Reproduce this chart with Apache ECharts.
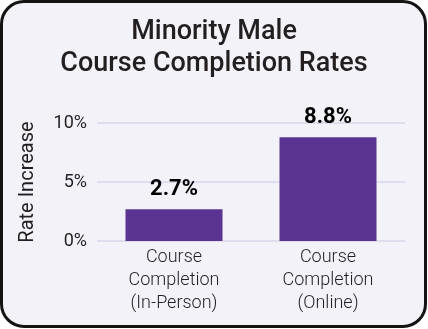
<!DOCTYPE html>
<html><head><meta charset="utf-8">
<script src="https://cdn.jsdelivr.net/npm/echarts@6/dist/echarts.min.js"></script>
<style>
html,body{margin:0;padding:0;background:#fff;}
#box{position:absolute;left:0;top:0;width:427px;height:328px;box-sizing:border-box;border:3px solid #141414;border-radius:24px;background:#f3f2f9;overflow:hidden;}
#chart{position:absolute;left:-3px;top:-3px;width:428px;height:329px;}
</style></head>
<body><div id="box"><div id="chart"></div></div>
<script>
const titleLines = ['Minority Male', 'Course Completion Rates'];
const categories = ['Course\nCompletion\n(In-Person)', 'Course\nCompletion\n(Online)'];
const values = [2.7, 8.8];
const yTicks = [0, 5, 10];
const yName = 'Rate Increase';

const chart = echarts.init(document.getElementById('chart'));
chart.setOption({
  animation: false,
  title: {
    text: titleLines.join('\n'),
    left: 'center', top: 11,
    textStyle: {fontFamily: 'Roboto', fontSize: 27, fontWeight: 500, color: '#231f20', lineHeight: 32}
  },
  grid: {left: 97, right: 23, top: 123, bottom: 88},
  xAxis: {
    type: 'category', data: categories,
    axisLine: {show: false}, axisTick: {show: false},
    axisLabel: {fontFamily: 'Roboto', fontWeight: 300, fontSize: 18, lineHeight: 23, color: '#231f20', margin: 5, verticalAlign: 'top'}
  },
  yAxis: {
    type: 'value', min: yTicks[0], max: yTicks[yTicks.length-1], interval: 5,
    name: yName, nameLocation: 'middle', nameGap: 59,
    nameTextStyle: {fontFamily: 'Roboto', fontWeight: 400, fontSize: 20, color: '#231f20'},
    axisLabel: {formatter: v => v + '%', fontFamily: 'Roboto', fontWeight: 400, fontSize: 18, color: '#231f20', margin: 10},
    splitLine: {lineStyle: {color: '#d8d5ea', width: 1.5}},
    axisLine: {show: false}, axisTick: {show: false}
  },
  series: [{
    type: 'bar', data: values, barWidth: 97,
    itemStyle: {color: '#5b3491'},
    label: {show: true, position: 'top', distance: 9, formatter: p => p.value + '%',
      fontFamily: 'Roboto', fontWeight: 700, fontSize: 22, color: '#000'}
  }]
});
</script></body></html>
